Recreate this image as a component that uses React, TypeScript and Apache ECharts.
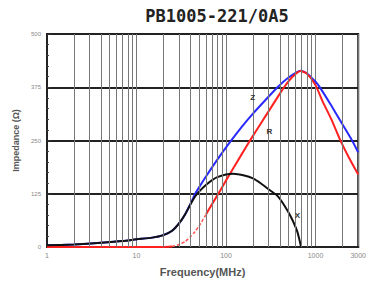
import React, { useEffect, useRef } from "react";
import * as echarts from "echarts";

const TITLE = "PB1005-221/0A5";
const Y_TICKS = [0, 125, 250, 375, 500];
const X_MIN = 1;
const X_MAX = 3000;
const MINOR_FREQS = [2, 3, 4, 5, 6, 7, 8, 9, 20, 30, 40, 50, 60, 70, 80, 90, 200, 300, 400, 500, 600, 700, 800, 900, 2000];

const freqZ = [1, 2, 4, 7, 10, 15, 20, 25, 30, 35, 40, 45, 50, 60, 80, 107, 150, 200, 276, 376, 500, 680, 800, 1000, 1100, 1500, 2000, 2580, 3000];
const zVals = [4, 6, 10, 14, 18, 22, 28, 38, 56, 77, 101, 124, 140, 166, 205, 242, 282, 313, 345, 375, 398, 414, 408, 388, 377, 332, 288, 249, 222];

const freqR = [1, 10, 20, 25, 30, 35, 40, 45, 50, 60, 70, 82, 100, 150, 183, 250, 300, 400, 445, 550, 680, 800, 1000, 1200, 1500, 1880, 2400, 3000];
const rVals = [0, 0, 0, 1, 6, 13, 24, 36, 49, 77, 101, 125, 156, 218, 248, 293, 319, 360, 375, 399, 413, 407, 380, 342, 300, 252, 207, 170];
const R_DASH_FROM = 25;
const R_DASH_TO = 60;

const freqX = [1, 2, 4, 7, 10, 15, 20, 25, 30, 35, 40, 45, 50, 60, 70, 80, 100, 120, 160, 200, 246, 315, 376, 447, 530, 626, 690];
const xVals = [4, 6, 10, 14, 18, 22, 28, 38, 56, 77, 100, 118, 130, 146, 157, 164, 170, 172, 168, 161, 149, 132, 120, 98, 71, 36, 0];

const curveLabels = [
  { name: "Z", freq: 199, value: 352 },
  { name: "R", freq: 306, value: 270 },
  { name: "X", freq: 626, value: 75 },
];

const pairs = (f: number[], v: number[]) => f.map((x, i) => [x, v[i]]);

export default function App() {
  const ref = useRef<HTMLDivElement>(null);
  useEffect(() => {
    if (!ref.current) return;
    const chart = echarts.init(ref.current, undefined, { renderer: "svg" });
    const rAll = pairs(freqR, rVals);
    const rLow = rAll.filter((p) => p[0] <= R_DASH_FROM);
    const rDash = rAll.filter((p) => p[0] >= R_DASH_FROM && p[0] <= R_DASH_TO);
    const rHigh = rAll.filter((p) => p[0] >= R_DASH_TO);
    const lbl = (name: string) => {
      const c = curveLabels.find((l) => l.name === name)!;
      return {
        silent: true,
        symbol: "circle",
        symbolSize: 0,
        data: [
          {
            coord: [c.freq, c.value],
            label: {
              show: true,
              formatter: c.name,
              position: "inside",
              color: "#333",
              fontSize: 8,
              fontWeight: "bold",
              fontFamily: "Liberation Sans",
            },
          },
        ],
      };
    };
    const curve = {
      type: "line",
      z: 3,
      smooth: 0.2,
      showSymbol: false,
    };
    chart.setOption({
      animation: false,
      graphic: [
        {
          type: "text",
          x: 217,
          y: 16,
          style: {
            text: TITLE,
            font: "bold 17px 'DejaVu Sans Mono'",
            fill: "#222",
            textAlign: "center",
            textVerticalAlign: "middle",
          },
        },
      ],
      grid: {
        left: 47,
        right: 8,
        top: 34,
        bottom: 39,
        show: true,
        borderColor: "#222",
        borderWidth: 2,
      },
      xAxis: {
        type: "log",
        logBase: 10,
        min: X_MIN,
        max: X_MAX,
        name: "Frequency(MHz)",
        nameLocation: "middle",
        nameGap: 19,
        nameTextStyle: { color: "#555", fontSize: 11, fontWeight: "bold", fontFamily: "Liberation Sans" },
        axisLine: { show: true, lineStyle: { color: "#222", width: 2 } },
        axisTick: { show: false },
        axisLabel: {
          color: "#888",
          fontSize: 7,
          margin: 5,
          fontFamily: "Liberation Sans",
          showMaxLabel: true,
          formatter: (v: number) => String(Math.round(v)),
        },
        splitLine: { show: true, lineStyle: { color: "#777", width: 1 } },
      },
      yAxis: {
        type: "value",
        min: Y_TICKS[0],
        max: Y_TICKS[Y_TICKS.length - 1],
        interval: Y_TICKS[1] - Y_TICKS[0],
        name: "Impedance (Ω)",
        nameLocation: "middle",
        nameGap: 27,
        nameTextStyle: { color: "#555", fontSize: 9, fontWeight: "bold", fontFamily: "Liberation Sans" },
        axisLine: { show: true, lineStyle: { color: "#222", width: 2 } },
        axisTick: { show: true, inside: true, length: 4, lineStyle: { color: "#333" } },
        minorTick: { show: true, splitNumber: 5, length: 2, lineStyle: { color: "#444" } },
        axisLabel: { color: "#888", fontSize: 6, margin: 6, fontFamily: "Liberation Sans" },
        splitLine: { show: true, lineStyle: { color: "#222", width: 2 } },
      },
      series: [
        {
          type: "line",
          z: 1,
          data: [],
          markLine: {
            silent: true,
            symbol: "none",
            label: { show: false },
            lineStyle: { color: "#777", width: 1, type: "solid" },
            data: MINOR_FREQS.map((f) => ({ xAxis: f })),
          },
        },
        {
          ...curve,
          name: "Z",
          data: pairs(freqZ, zVals),
          lineStyle: { color: "#2a2aff", width: 2 },
          markPoint: lbl("Z"),
        },
        {
          ...curve,
          name: "R",
          data: rLow,
          lineStyle: { color: "#ff2020", width: 2 },
        },
        {
          ...curve,
          name: "R",
          data: rDash,
          lineStyle: { color: "#ff5050", width: 1.5, type: [3, 2] },
        },
        {
          ...curve,
          name: "R",
          data: rHigh,
          lineStyle: { color: "#ff2020", width: 2 },
          markPoint: lbl("R"),
        },
        {
          ...curve,
          name: "X",
          z: 4,
          data: pairs(freqX, xVals),
          lineStyle: { color: "#111", width: 2 },
          markPoint: lbl("X"),
        },
      ],
    });
    return () => chart.dispose();
  }, []);
  return <div ref={ref} style={{ width: 369, height: 286, position: "absolute", left: 0, top: 0 }} />;
}
